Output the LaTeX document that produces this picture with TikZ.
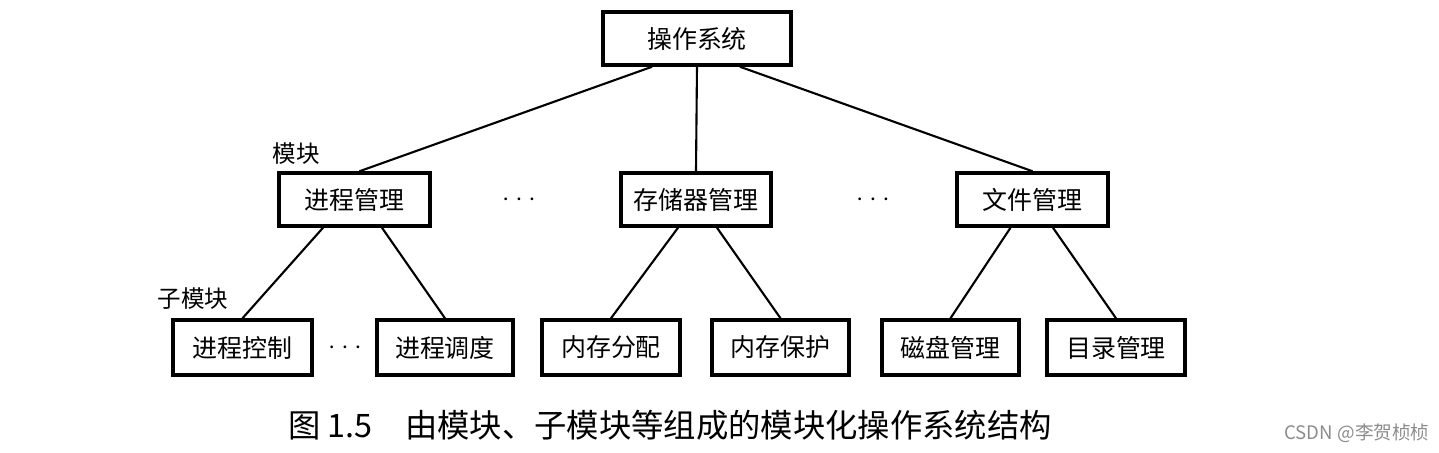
\documentclass[tikz,border=0pt]{standalone}
\usepackage{fontspec}
\setmainfont{Noto Sans CJK SC}
\usetikzlibrary{positioning}

\begin{document}
\begin{tikzpicture}[box/.style={draw, line width=1pt, inner sep=0pt, minimum height=0.53cm, font=\fontsize{7.1pt}{8pt}\selectfont},
                    low/.style={box, minimum height=0.55cm},
                    link/.style={line width=0.6pt},
                    gap/.style={inner sep=0pt, font=\fontsize{7.5pt}{8pt}\selectfont},
                    tag/.style={font=\fontsize{6.7pt}{8pt}\selectfont}]
        \useasboundingbox (0,0) rectangle (14.39,4.52);
        \node[box, minimum width=1.88cm] (os) at (6.97,4.135) {操作系统};
        \node[box, minimum width=1.51cm] (proc) at (3.545,2.525) {进程管理};
        \node[box, minimum width=1.50cm] (mem) at (6.96,2.525) {存储器管理};
        \node[box, minimum width=1.51cm] (file) at (10.325,2.525) {文件管理};
        \draw[link] ([xshift=-0.45cm]os.south) -- ([xshift=0.05cm]proc.north);
        \draw[link] (os.south) -- (mem.north);
        \draw[link] ([xshift=0.43cm]os.south) -- (file.north);
        \node[gap] (dots1) at (5.19,2.525) {$\cdots$};
        \node[gap] (dots2) at (8.73,2.525) {$\cdots$};
        \node[tag] (modlabel) at (2.96,2.98) {模块};
        \node[low, minimum width=1.39cm] (ctrl) at (2.425,1.045) {进程控制};
        \node[low, minimum width=1.36cm] (sched) at (4.45,1.045) {进程调度};
        \node[low, minimum width=1.38cm] (alloc) at (6.11,1.045) {内存分配};
        \node[low, minimum width=1.37cm] (prot) at (7.805,1.045) {内存保护};
        \node[low, minimum width=1.37cm] (disk) at (9.505,1.045) {磁盘管理};
        \node[low, minimum width=1.38cm] (dir) at (11.16,1.045) {目录管理};
        \node[gap] (dots3) at (3.45,1.045) {$\cdots$};
        \node[tag] (sublabel) at (1.93,1.53) {子模块};
        \draw[link] ([xshift=-0.315cm]proc.south) -- (ctrl.north);
        \draw[link] ([xshift=0.275cm]proc.south) -- (sched.north);
        \draw[link] ([xshift=-0.18cm]mem.south) -- (alloc.north);
        \draw[link] ([xshift=0.21cm]mem.south) -- (prot.north);
        \draw[link] ([xshift=-0.22cm]file.south) -- (disk.north);
        \draw[link] ([xshift=0.205cm]file.south) -- (dir.north);
        \node[font=\fontsize{9.2pt}{10pt}\selectfont] (caption) at (6.70,0.27) {图 1.5\hspace{1em}由模块、子模块等组成的模块化操作系统结构};
        \node[font=\fontsize{5.3pt}{6pt}\selectfont, text=black!45] (mark) at (13.57,0.19) {CSDN @李贺桢桢};
    \end{tikzpicture}
\end{document}
